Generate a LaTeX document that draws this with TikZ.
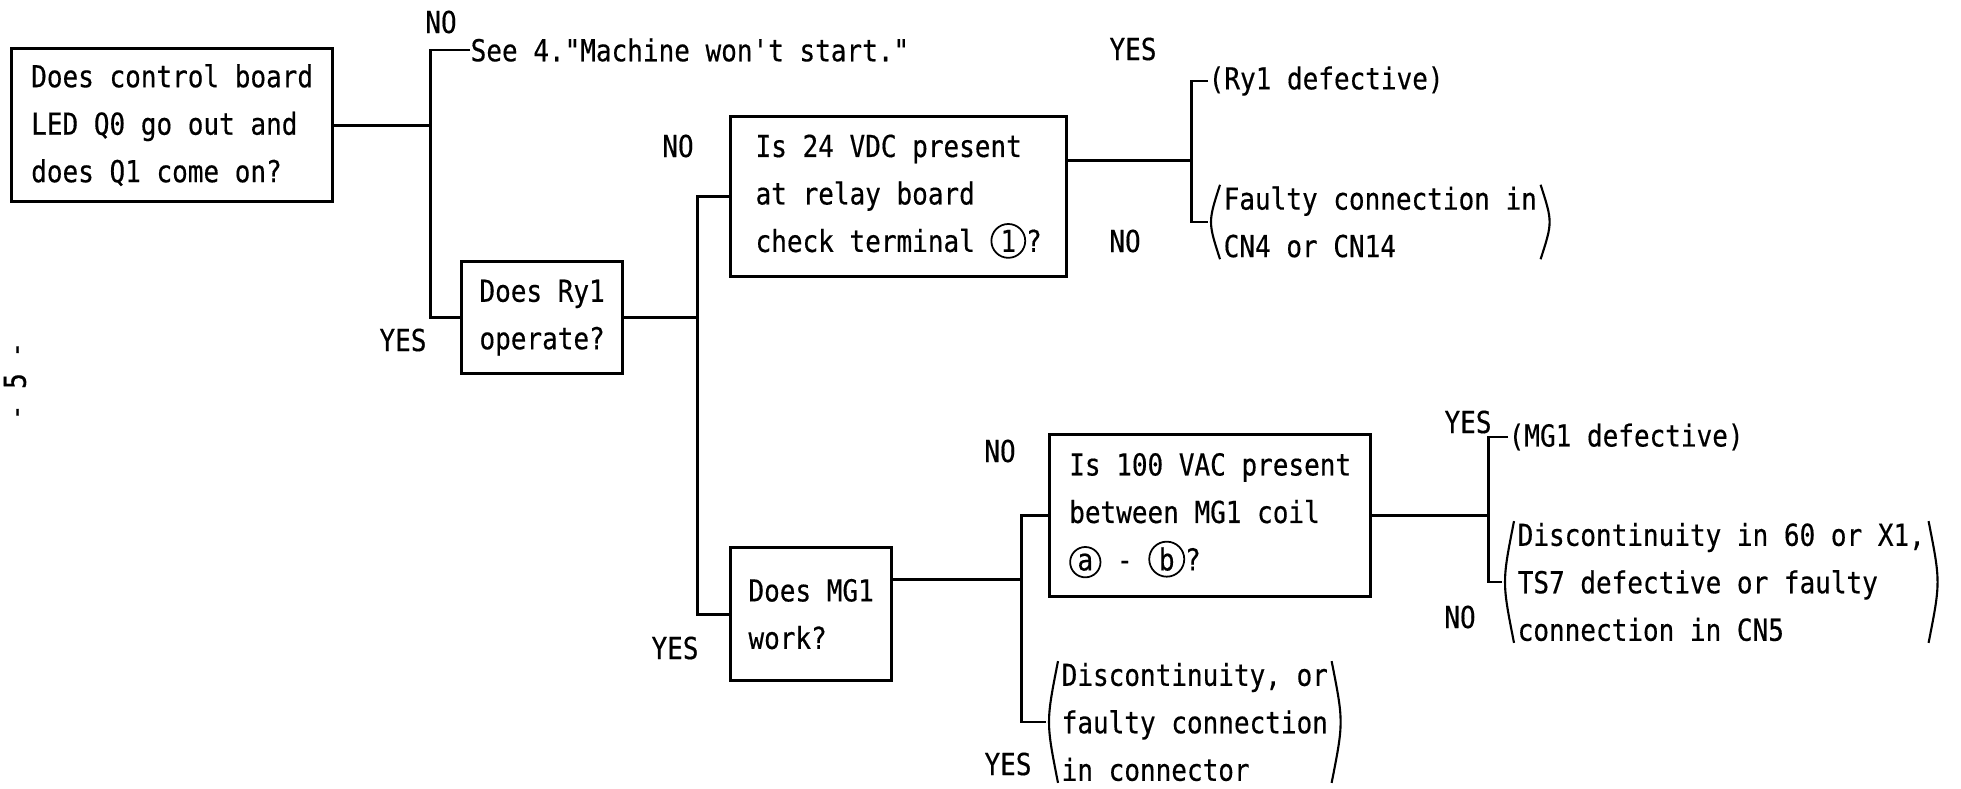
\documentclass[tikz,border=0pt]{standalone}
\usepackage{fontspec}
\usepackage{tikz}
\newfontfamily\flowfont[FakeStretch=0.86,FakeBold=0.4]{DejaVu Sans Mono}
\newcommand{\ringed}[1]{\tikz[baseline=(r.base)]\node[draw,circle,line width=0.5pt,inner sep=0.7pt,minimum size=0pt,anchor=center] (r) {#1};}

\begin{document}
\begin{tikzpicture}[x=0.01cm,y=-0.01cm,
	every node/.style={font=\flowfont\fontsize{8.6pt}{13.5pt}\selectfont},
	qbox/.style={draw,line width=0.9pt,align=left,anchor=north west,inner sep=0pt},
	outc/.style={align=left,anchor=west,inner sep=0pt},
	pbox/.style={outc,inner xsep=0.15cm,inner ysep=0.01cm},
	lbl/.style={inner sep=0pt},
	link/.style={line width=0.8pt},
	paren/.style={line width=0.6pt}]
	\useasboundingbox (0,0) rectangle (1961,788);
	\node[qbox,minimum width=3.21cm,minimum height=1.53cm] (led) at (10,47) {Does control board\\LED Q0 go out and\\does Q1 come on?};
	\node[qbox,minimum width=1.61cm,minimum height=1.12cm] (ry) at (460,260) {Does Ry1\\operate?};
	\node[qbox,minimum width=3.36cm,minimum height=1.60cm] (vdc) at (729,115) {Is 24 VDC present\\at relay board\\check terminal \ringed{1}?};
	\node[qbox,minimum width=1.61cm,minimum height=1.33cm] (mg) at (729,546) {Does MG1\\work?};
	\node[qbox,minimum width=3.21cm,minimum height=1.62cm] (vac) at (1048,433) {Is 100 VAC present\\between MG1 coil\\\ringed{a} - \ringed{b}?};
	\node[outc] (see) at (470,50) {See 4."Machine won't start."};
	\node[outc] (ryd) at (1208,81) {(Ry1 defective)};
	\node[pbox] (flt) at (1208,222) {Faulty connection in\\CN4 or CN14};
	\node[outc] (mgd) at (1508,437) {(MG1 defective)};
	\node[pbox] (dsc) at (1046,722) {Discontinuity, or\\faulty connection\\in connector};
	\node[pbox] (dsx) at (1502,582) {Discontinuity in 60 or X1,\\TS7 defective or faulty\\connection in CN5};
	\node[lbl] (no1) at (441,22) {NO};
	\node[lbl] (yes1) at (403,340) {YES};
	\node[lbl] (no2) at (678,146) {NO};
	\node[lbl] (yes2) at (675,648) {YES};
	\node[lbl] (yes3) at (1133,49) {YES};
	\node[lbl] (no3) at (1125,241) {NO};
	\node[lbl] (no4) at (1000,451) {NO};
	\node[lbl] (yes4) at (1008,764) {YES};
	\node[lbl] (yes5) at (1468,422) {YES};
	\node[lbl] (no5) at (1460,617) {NO};
	\node[lbl,rotate=90] (pg) at (15,381) {- 5 -};
	\draw[link] (led.east) -- ++(96,0) coordinate (j1);
	\draw[link] (see.west) -| (j1) |- (ry.west);
	\draw[link] (ry.east) -- ++(73,0) coordinate (j2);
	\draw[link] (vdc.west) -| (j2) |- (mg.west);
	\draw[link] (vdc.12) -- ++(123,0) coordinate (j3);
	\draw[link] (ryd.west) -| (j3) |- (flt.west);
	\draw[link] (mg.23) -- ++(128,0) coordinate (j4);
	\draw[link] (vac.west) -| (j4) |- (dsc.west);
	\draw[link] (vac.east) -- ++(116,0) coordinate (j5);
	\draw[link] (mgd.west) -| (j5) |- (dsx.west);
	\foreach \p in {flt,dsc,dsx}{
		\draw[paren] ([xshift=0.12cm]\p.north west) .. controls (\p.west) and (\p.west) .. ([xshift=0.12cm]\p.south west);
		\draw[paren] ([xshift=-0.12cm]\p.north east) .. controls (\p.east) and (\p.east) .. ([xshift=-0.12cm]\p.south east);
	}
\end{tikzpicture}
\end{document}
